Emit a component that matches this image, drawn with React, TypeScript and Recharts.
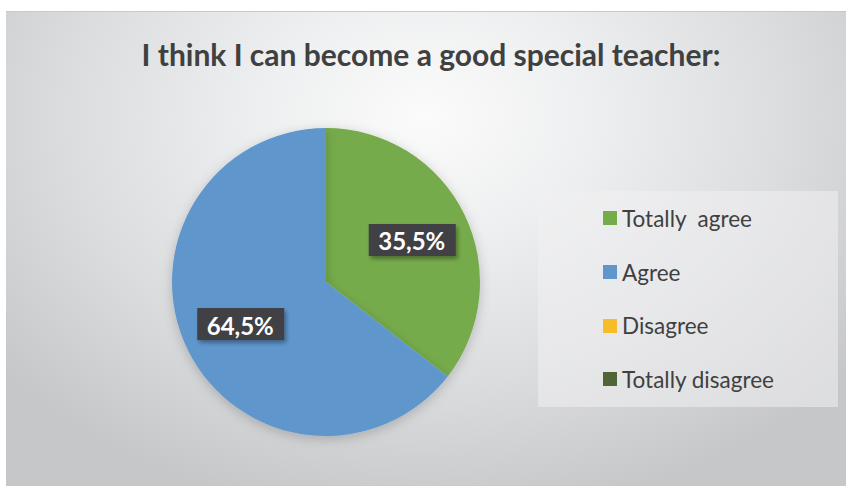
import React from "react";
import { PieChart, Pie, Cell, Legend } from "recharts";

const categories = ["Totally  agree", "Agree", "Disagree", "Totally disagree"];
const values = [35.5, 64.5, 0, 0];
const colors = ["#76AB4C", "#5F97CD", "#F6BD28", "#4F6535"];
const title = "I think I can become a good special teacher:";

const data = categories.map((name, i) => ({ name, value: values[i] }));

const fmt = (v: number) => v.toFixed(1).replace(".", ",") + "%";

const RAD = Math.PI / 180;

const renderLabel = (props: any) => {
  const { cx, cy, midAngle, outerRadius, value } = props;
  if (!value) return null;
  const r = outerRadius * 0.62;
  const x = cx + r * Math.cos(-midAngle * RAD);
  const y = cy + r * Math.sin(-midAngle * RAD);
  return (
    <g>
      <rect x={x - 43} y={y - 16} width={87} height={32} fill="#3f3f44" filter="url(#lblShadow)" />
      <text
        x={x}
        y={y + 1}
        textAnchor="middle"
        dominantBaseline="central"
        fill="#ffffff"
        fontWeight="bold"
        fontSize={24}
        fontFamily="Lato, 'Open Sans', sans-serif"
      >
        {fmt(value)}
      </text>
    </g>
  );
};

const LegendContent = (props: any) => {
  const payload = [...(props.payload || [])].sort(
    (a: any, b: any) => categories.indexOf(a.value) - categories.indexOf(b.value)
  );
  return (
    <div
      style={{
        width: 300,
        height: 216,
        background: "rgba(240,241,242,0.55)",
        boxSizing: "border-box",
        paddingTop: 14,
        paddingLeft: 65,
      }}
    >
      {payload.map((p: any, i: number) => (
        <div
          key={i}
          style={{
            display: "flex",
            alignItems: "center",
            height: 53.7,
          }}
        >
          <div style={{ width: 14, height: 14, background: p.color, marginRight: 5, marginTop: -27 }} />
          <div
            style={{
              fontFamily: "Lato, 'Open Sans', sans-serif",
              fontSize: 22.5,
              color: "#404040",
              whiteSpace: "pre",
              marginTop: -27,
            }}
          >
            {p.value}
          </div>
        </div>
      ))}
    </div>
  );
};

export default function App() {
  return (
    <div style={{ position: "absolute", left: 0, top: 0, width: 846, height: 486, background: "#ffffff", overflow: "hidden" }}>
      <div
        style={{
          position: "absolute",
          left: 6,
          top: 11,
          width: 840,
          height: 475,
          borderTop: "1px solid #c8c8c8",
          background:
            "radial-gradient(ellipse 65% 85% at 50% 22%, #fbfbfb 0%, #eeeff0 30%, #dcdddf 65%, #c6c7c9 100%)",
        }}
      />
      <div
        style={{
          position: "absolute",
          left: 11,
          top: 36,
          width: 840,
          textAlign: "center",
          fontFamily: "Lato, 'Open Sans', sans-serif",
          fontWeight: "bold",
          fontSize: 30,
          color: "#404040",
        }}
      >
        {title}
      </div>
      <div style={{ position: "absolute", left: 0, top: 0 }}>
        <PieChart width={846} height={486} margin={{ top: 0, right: 0, bottom: 0, left: 0 }}>
          <defs>
            <filter id="lblShadow" x="-20%" y="-30%" width="150%" height="180%">
              <feDropShadow dx="2" dy="3" stdDeviation="2" floodColor="#000" floodOpacity="0.35" />
            </filter>
            <filter id="pieShadow" x="-20%" y="-20%" width="140%" height="140%">
              <feDropShadow dx="0" dy="3" stdDeviation="6" floodColor="#000" floodOpacity="0.2" />
            </filter>
          </defs>
          <Pie
            data={data}
            dataKey="value"
            nameKey="name"
            cx={326}
            cy={282}
            outerRadius={154}
            startAngle={90}
            endAngle={-270}
            stroke="none"
            label={renderLabel}
            labelLine={false}
            isAnimationActive={false}
          >
            {data.map((d, i) => (
              <Cell key={i} fill={colors[i]} filter="url(#pieShadow)" />
            ))}
          </Pie>
          <Legend
            layout="vertical"
            align="right"
            verticalAlign="top"
            content={<LegendContent />}
            wrapperStyle={{ left: 538, top: 191, width: 300, height: 216, right: "auto" }}
          />
        </PieChart>
      </div>
    </div>
  );
}
